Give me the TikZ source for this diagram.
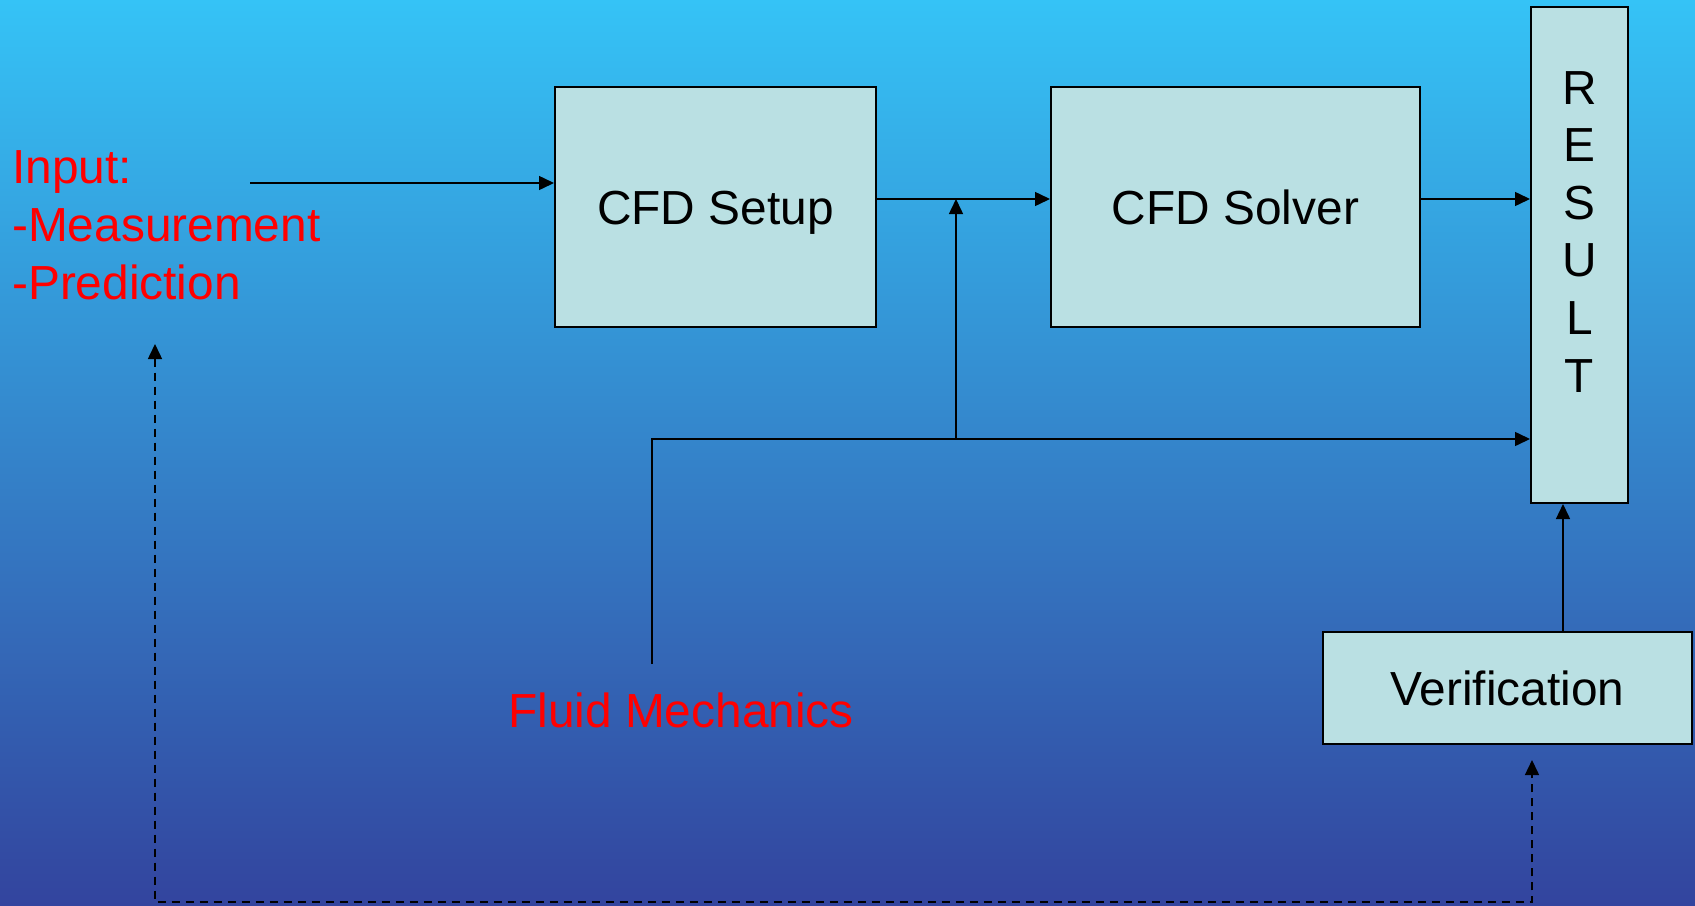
\documentclass[tikz,border=0pt]{standalone}
\usepackage{fontspec}
\setmainfont{Liberation Sans}
\usetikzlibrary{arrows.meta,calc}
\definecolor{bgtop}{RGB}{53,195,246}
\definecolor{bgbot}{RGB}{51,68,158}
\definecolor{boxfill}{RGB}{186,224,227}
\definecolor{txtred}{RGB}{255,0,0}
\tikzset{
  blockbox/.style={draw=black, line width=2bp, fill=boxfill, inner sep=0pt,
    font=\fontsize{48}{58}\selectfont, text height=34.4bp, text depth=0pt},
  redtext/.style={text=txtred, inner sep=0pt, font=\fontsize{48}{58.5}\selectfont},
  conn/.style={draw=black, line width=1.5bp, -{Triangle[length=15bp,width=14bp]}},
  dconn/.style={draw=black, line width=1.5bp, dash pattern=on 8bp off 6bp,
    {Triangle[length=15bp,width=14bp]}-{Triangle[length=15bp,width=14bp]}}
}
\begin{document}
\begin{tikzpicture}[x=1bp,y=-1bp]
\useasboundingbox (0,0) rectangle (1695,905);
\shade[top color=bgtop, bottom color=bgbot] (0,0) rectangle (1695,905);

% boxes
\node[blockbox, minimum width=321bp, minimum height=240bp] (setup) at (715.5,207) {CFD Setup};
\node[blockbox, minimum width=369bp, minimum height=240bp] (solver) at (1235.5,207) {CFD Solver};
\node[blockbox, minimum width=97bp, minimum height=496bp] (result) at (1579.5,255) {};
\node[inner sep=0pt, anchor=north, align=center, font=\fontsize{48}{57.8}\selectfont] (resulttext) at (1579.5,71) {R\\E\\S\\U\\L\\T};
\node[blockbox, minimum width=369bp, minimum height=112bp] (verif) at (1507.5,688) {Verification};

% red texts
\node[redtext, anchor=north west, align=left] (input) at (12,150) {Input:\\-Measurement\\-Prediction};
\node[redtext, anchor=base] (fluid) at (681,727) {Fluid Mechanics};

% coordinates
\coordinate (inStart) at (250,183);
\coordinate (rowA) at ([yshift=8bp]setup.east);
\coordinate (rowB) at ([yshift=8bp]solver.east);
\coordinate (fmStart) at (652,664);
\coordinate (fmCorner) at (652,439);
\coordinate (junction) at (956,439);
\coordinate (vr) at ([xshift=-16.5bp]result.south);
\coordinate (dashA) at (155,344);
\coordinate (dashB) at (155,902);
\coordinate (dashC) at (1532,902);
\coordinate (dashD) at (1532,760);

% connectors
\draw[conn] (inStart) -- (inStart -| setup.west);
\draw[conn] (rowA) -- (rowA -| solver.west);
\draw[conn] (rowB) -- (rowB -| result.west);
\draw[conn] (fmStart) -- (fmCorner) -- (fmCorner -| result.west);
\draw[conn] (junction) -- (junction |- rowA);
\draw[conn] (verif.north -| vr) -- (vr);
\draw[dconn] (dashA) -- (dashB) -- (dashC) -- (dashD);
\end{tikzpicture}
\end{document}
